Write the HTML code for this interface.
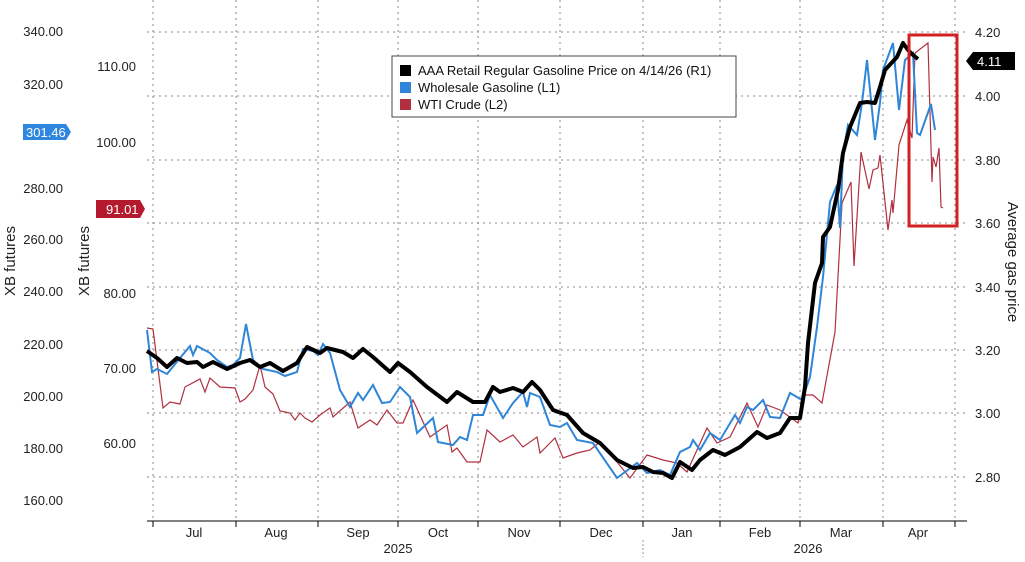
<!DOCTYPE html>
<html><head><style>
body{margin:0;background:#fff;}
svg text{font-family:"Liberation Sans",sans-serif;}
</style></head><body>
<svg width="1025" height="557" viewBox="0 0 1025 557" xmlns="http://www.w3.org/2000/svg">
<rect width="1025" height="557" fill="#fff"/>
<g stroke="#888" stroke-width="1" stroke-dasharray="2,4">
<line x1="147" y1="32" x2="966" y2="32"/><line x1="147" y1="96" x2="966" y2="96"/>
<line x1="147" y1="160" x2="966" y2="160"/><line x1="147" y1="223" x2="966" y2="223"/>
<line x1="147" y1="287" x2="966" y2="287"/><line x1="147" y1="350" x2="966" y2="350"/>
<line x1="147" y1="413" x2="966" y2="413"/><line x1="147" y1="477" x2="966" y2="477"/>
<line x1="153" y1="0" x2="153" y2="521"/><line x1="236" y1="0" x2="236" y2="521"/>
<line x1="318" y1="0" x2="318" y2="521"/><line x1="398" y1="0" x2="398" y2="521"/>
<line x1="478" y1="0" x2="478" y2="521"/><line x1="560" y1="0" x2="560" y2="521"/>
<line x1="643" y1="0" x2="643" y2="521"/><line x1="720" y1="0" x2="720" y2="521"/>
<line x1="800" y1="0" x2="800" y2="521"/><line x1="883" y1="0" x2="883" y2="521"/>
<line x1="955" y1="0" x2="955" y2="521"/>
</g>
<line x1="147" y1="521" x2="967" y2="521" stroke="#000"/>
<g stroke="#000"><line x1="153" y1="521" x2="153" y2="527"/><line x1="236" y1="521" x2="236" y2="527"/><line x1="318" y1="521" x2="318" y2="527"/><line x1="398" y1="521" x2="398" y2="527"/><line x1="478" y1="521" x2="478" y2="527"/><line x1="560" y1="521" x2="560" y2="527"/><line x1="643" y1="521" x2="643" y2="527"/><line x1="720" y1="521" x2="720" y2="527"/><line x1="800" y1="521" x2="800" y2="527"/><line x1="883" y1="521" x2="883" y2="527"/><line x1="955" y1="521" x2="955" y2="527"/></g>
<line x1="643" y1="540" x2="643" y2="557" stroke="#999" stroke-dasharray="2,2"/>
<g font-size="13" fill="#222" text-anchor="middle">
<text x="194" y="537">Jul</text><text x="276" y="537">Aug</text><text x="358" y="537">Sep</text><text x="438" y="537">Oct</text><text x="519" y="537">Nov</text><text x="601" y="537">Dec</text><text x="682" y="537">Jan</text><text x="760" y="537">Feb</text><text x="841" y="537">Mar</text><text x="918" y="537">Apr</text>
<text x="398" y="553">2025</text><text x="808" y="553">2026</text>
</g>
<g font-size="13" fill="#222" text-anchor="end">
<text x="63" y="36">340.00</text><text x="63" y="89">320.00</text><text x="63" y="193">280.00</text><text x="63" y="244">260.00</text><text x="63" y="296">240.00</text><text x="63" y="349">220.00</text><text x="63" y="401">200.00</text><text x="63" y="453">180.00</text><text x="63" y="505">160.00</text>
<text x="136" y="71">110.00</text><text x="136" y="147">100.00</text><text x="136" y="298">80.00</text><text x="136" y="373">70.00</text><text x="136" y="448">60.00</text>
</g>
<g font-size="13" fill="#222">
<text x="975" y="37">4.20</text><text x="975" y="101">4.00</text><text x="975" y="165">3.80</text><text x="975" y="228">3.60</text><text x="975" y="292">3.40</text><text x="975" y="355">3.20</text><text x="975" y="418">3.00</text><text x="975" y="482">2.80</text>
</g>
<text transform="translate(15,261) rotate(-90)" font-size="15" fill="#222" text-anchor="middle">XB futures</text>
<text transform="translate(89,261) rotate(-90)" font-size="15" fill="#222" text-anchor="middle">XB futures</text>
<text transform="translate(1008,262) rotate(90)" font-size="15" fill="#222" text-anchor="middle">Average gas price</text>
<path d="M23,124 H66 L71,132 L66,140 H23 Z" fill="#2e86de"/>
<text x="26" y="137" font-size="13" fill="#fff">301.46</text>
<path d="M96,200 H140 L145,209 L140,218 H96 Z" fill="#b5192d"/>
<text x="106" y="214" font-size="13" fill="#fff">91.01</text>
<path d="M966,61 L973,52 H1015 V70 H973 Z" fill="#000"/>
<text x="977" y="66" font-size="13" fill="#fff">4.11</text>
<polyline fill="none" stroke="#b03040" stroke-width="1.2" points="147,328 153,329 163,408 170,402 180,404 185,387 200,379 205,392 210,378 220,387 235,388 240,402 245,399 253,390 260,365 265,387 273,394 280,411 290,413 295,420 300,413 305,418 312,422 320,415 330,408 333,417 350,402 358,428 370,420 377,425 387,410 397,423 403,423 413,400 430,437 447,425 452,452 457,448 467,462 480,462 487,430 500,442 513,435 523,447 537,437 540,453 550,443 555,438 563,458 577,453 590,450 600,442 613,457 630,478 647,455 663,460 677,463 687,472 707,428 717,443 730,437 747,403 758,427 767,405 780,410 798,423 803,395 813,395 822,403 835,332 842,203 851,182 854,266 861,152 869,189 873,170 878,168 880,155 888,230 892,200 893,213 899,145 907,120 912,138 915,53 928,43 932,182 933,157 936,167 939,148 941,207 943,208"/>
<polyline fill="none" stroke="#2f86d8" stroke-width="2" points="147,330 152,372 157,369 167,374 180,358 190,346 193,355 197,346 210,353 217,360 227,367 233,365 240,358 246,324 253,360 263,369 277,372 285,376 297,372 303,349 313,351 318,355 323,344 330,353 340,390 350,407 358,393 363,400 373,385 382,403 390,402 400,387 410,397 417,433 433,418 438,442 453,445 460,437 467,440 473,415 483,415 490,395 503,418 513,403 523,392 527,407 530,393 540,397 550,425 560,427 567,423 577,440 593,443 617,478 637,463 647,473 660,470 670,475 680,452 690,447 693,440 700,450 710,433 720,440 735,415 740,423 747,407 753,410 763,400 770,417 780,418 790,393 802,400 810,377 817,327 823,277 830,202 837,185 840,228 843,153 848,125 857,135 862,103 867,60 875,140 880,103 883,70 893,43 899,110 905,60 913,53 917,133 920,135 931,104 935,130"/>
<polyline fill="none" stroke="#000" stroke-width="4" stroke-linejoin="round" points="147,351 157,358 167,367 177,358 187,363 197,362 203,367 213,362 227,369 240,363 250,360 260,367 270,363 283,371 297,363 307,347 320,353 327,348 343,352 353,358 363,349 373,357 390,372 398,363 410,372 427,387 447,402 457,392 473,402 485,402 493,387 500,392 513,388 523,392 532,382 540,390 553,410 567,415 583,433 600,443 617,460 633,468 643,467 653,472 663,473 672,478 680,462 692,470 700,460 713,450 725,455 740,447 757,432 767,438 780,433 790,418 800,418 805,387 808,343 815,283 822,263 823,237 830,227 838,190 843,153 850,127 860,103 867,102 875,103 880,87 885,70 897,57 903,43 908,50 913,55 918,59"/>
<rect x="909" y="35" width="48" height="191" fill="none" stroke="#d42020" stroke-width="3"/>
<rect x="392" y="56" width="344" height="61" fill="#fff" stroke="#444"/>
<rect x="400" y="65" width="11" height="11" fill="#000"/><text x="418" y="75" font-size="13" fill="#111">AAA Retail Regular Gasoline Price on 4/14/26 (R1)</text>
<rect x="400" y="82" width="11" height="11" fill="#2f86d8"/><text x="418" y="92" font-size="13" fill="#111">Wholesale Gasoline (L1)</text>
<rect x="400" y="99" width="11" height="11" fill="#b03040"/><text x="418" y="109" font-size="13" fill="#111">WTI Crude (L2)</text>
</svg>
</body></html>
